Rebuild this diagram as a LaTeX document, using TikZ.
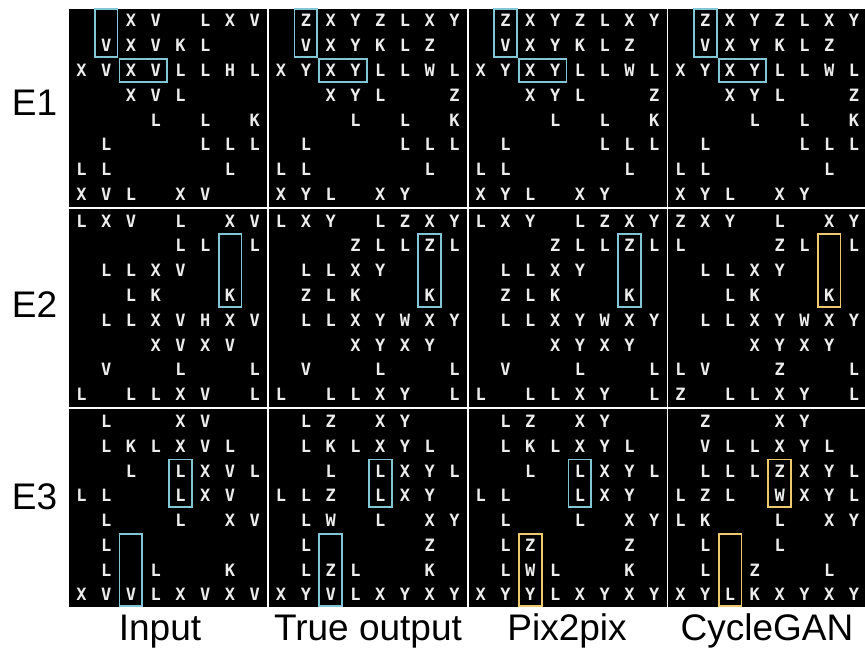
\documentclass[tikz,border=0pt]{standalone}
\usepackage{fontspec}
\setmainfont{Liberation Sans}
\newfontfamily\gridfont{DejaVu Sans Mono}
\usetikzlibrary{fit,positioning}

\definecolor{celltext}{RGB}{236,236,236}
\definecolor{truebox}{RGB}{128,198,212}
\definecolor{falsebox}{RGB}{238,200,108}

\def\cellsz{24.78}
\def\panelsz{198.2}

\tikzstyle{panel} = [rectangle, fill=black, draw=none,
			minimum width=\panelsz, minimum height=\panelsz,
			inner sep=0pt]
\tikzstyle{cell} = [rectangle, text=celltext,
			font=\gridfont\bfseries\fontsize{17}{17}\selectfont,
			minimum size=\cellsz, inner sep=0pt]
\tikzstyle{T} = [draw=truebox, line width=1.8pt, inner sep=-1.2pt]
\tikzstyle{F} = [draw=falsebox, line width=1.8pt, inner sep=-1.2pt]
\tikzstyle{lab} = [font=\fontsize{37}{37}\selectfont, inner sep=0pt]

\newcommand{\drawpanel}[4]{%
	\node [panel, anchor=north west] (#1) at (#2,#3) {};
	\foreach \rowdata [count=\ri] in #4 {
		\foreach \ch [count=\ci] in \rowdata {
			\node [cell] (#1-\ri-\ci)
				at ({#2+(\ci-0.5)*\cellsz},{#3+(\ri-0.5)*\cellsz})
				{\if\ch.\else\ch\fi};
		}
	}%
}

\def\gridAin{{.,.,X,V,.,L,X,V},{.,V,X,V,K,L,.,.},{X,V,X,V,L,L,H,L},{.,.,X,V,L,.,.,.},%
{.,.,.,L,.,L,.,K},{.,L,.,.,.,L,L,L},{L,L,.,.,.,.,L,.},{X,V,L,.,X,V,.,.}}
\def\gridAout{{.,Z,X,Y,Z,L,X,Y},{.,V,X,Y,K,L,Z,.},{X,Y,X,Y,L,L,W,L},{.,.,X,Y,L,.,.,Z},%
{.,.,.,L,.,L,.,K},{.,L,.,.,.,L,L,L},{L,L,.,.,.,.,L,.},{X,Y,L,.,X,Y,.,.}}

\def\gridBin{{L,X,V,.,L,.,X,V},{.,.,.,.,L,L,.,L},{.,L,L,X,V,.,.,.},{.,.,L,K,.,.,K,.},%
{.,L,L,X,V,H,X,V},{.,.,.,X,V,X,V,.},{.,V,.,.,L,.,.,L},{L,.,L,L,X,V,.,L}}
\def\gridBout{{L,X,Y,.,L,Z,X,Y},{.,.,.,Z,L,L,Z,L},{.,L,L,X,Y,.,.,.},{.,Z,L,K,.,.,K,.},%
{.,L,L,X,Y,W,X,Y},{.,.,.,X,Y,X,Y,.},{.,V,.,.,L,.,.,L},{L,.,L,L,X,Y,.,L}}
\def\gridBcg{{Z,X,Y,.,L,.,X,Y},{L,.,.,.,Z,L,.,L},{.,L,L,X,Y,.,.,.},{.,.,L,K,.,.,K,.},%
{.,L,L,X,Y,W,X,Y},{.,.,.,X,Y,X,Y,.},{L,V,.,.,Z,.,.,L},{Z,.,L,L,X,Y,.,L}}

\def\gridCin{{.,L,.,.,X,V,.,.},{.,L,K,L,X,V,L,.},{.,.,L,.,L,X,V,L},{L,L,.,.,L,X,V,.},%
{.,L,.,.,L,.,X,V},{.,L,.,.,.,.,.,.},{.,L,.,L,.,.,K,.},{X,V,V,L,X,V,X,V}}
\def\gridCout{{.,L,Z,.,X,Y,.,.},{.,L,K,L,X,Y,L,.},{.,.,L,.,L,X,Y,L},{L,L,Z,.,L,X,Y,.},%
{.,L,W,.,L,.,X,Y},{.,L,.,.,.,.,Z,.},{.,L,Z,L,.,.,K,.},{X,Y,V,L,X,Y,X,Y}}
\def\gridCpx{{.,L,Z,.,X,Y,.,.},{.,L,K,L,X,Y,L,.},{.,.,L,.,L,X,Y,L},{L,L,.,.,L,X,Y,.},%
{.,L,.,.,L,.,X,Y},{.,L,Z,.,.,.,Z,.},{.,L,W,L,.,.,K,.},{X,Y,Y,L,X,Y,X,Y}}
\def\gridCcg{{.,Z,.,.,X,Y,.,.},{.,V,L,L,X,Y,L,.},{.,L,L,L,Z,X,Y,L},{L,Z,L,.,W,X,Y,L},%
{L,K,.,.,L,.,X,Y},{.,L,.,.,L,.,.,.},{.,L,.,Z,.,.,L,.},{X,Y,L,K,X,Y,X,Y}}

\begin{document}
\begin{tikzpicture}[x=1pt, y=-1pt]

\useasboundingbox (0,0) rectangle (865,649);

\drawpanel{a-in}{69}{8.3}{\gridAin}
\drawpanel{a-tr}{268.7}{8.3}{\gridAout}
\drawpanel{a-px}{468.4}{8.3}{\gridAout}
\drawpanel{a-cg}{668.1}{8.3}{\gridAout}

\drawpanel{b-in}{69}{208.6}{\gridBin}
\drawpanel{b-tr}{268.7}{208.6}{\gridBout}
\drawpanel{b-px}{468.4}{208.6}{\gridBout}
\drawpanel{b-cg}{668.1}{208.6}{\gridBcg}

\drawpanel{c-in}{69}{408.9}{\gridCin}
\drawpanel{c-tr}{268.7}{408.9}{\gridCout}
\drawpanel{c-px}{468.4}{408.9}{\gridCpx}
\drawpanel{c-cg}{668.1}{408.9}{\gridCcg}

\foreach \p in {in,tr,px,cg} {
	\node [T, fit=(a-\p-1-2)(a-\p-2-2)] (a-\p-box1) {};
	\node [T, fit=(a-\p-3-3)(a-\p-3-4)] (a-\p-box2) {};
}

\foreach \p in {in,tr,px} {
	\node [T, fit=(b-\p-2-7)(b-\p-4-7)] (b-\p-box1) {};
	\node [T, fit=(c-\p-3-5)(c-\p-4-5)] (c-\p-box1) {};
}
\node [F, fit=(b-cg-2-7)(b-cg-4-7)] (b-cg-box1) {};
\node [F, fit=(c-cg-3-5)(c-cg-4-5)] (c-cg-box1) {};

\foreach \p in {in,tr} {
	\node [T, fit=(c-\p-6-3)(c-\p-8-3)] (c-\p-box2) {};
}
\foreach \p in {px,cg} {
	\node [F, fit=(c-\p-6-3)(c-\p-8-3)] (c-\p-box2) {};
}

\node [lab] (e1) at (34.5,103) {E1};
\node [lab] (e2) at (34.5,305) {E2};
\node [lab] (e3) at (34.5,497) {E3};

\node [lab, anchor=base] (lab-in) at (160,640) {Input};
\node [lab, anchor=base] (lab-tr) at (368,640) {True output};
\node [lab, anchor=base] (lab-px) at (567,640) {Pix2pix};
\node [lab, anchor=base] (lab-cg) at (767,640) {CycleGAN};

\end{tikzpicture}
\end{document}
